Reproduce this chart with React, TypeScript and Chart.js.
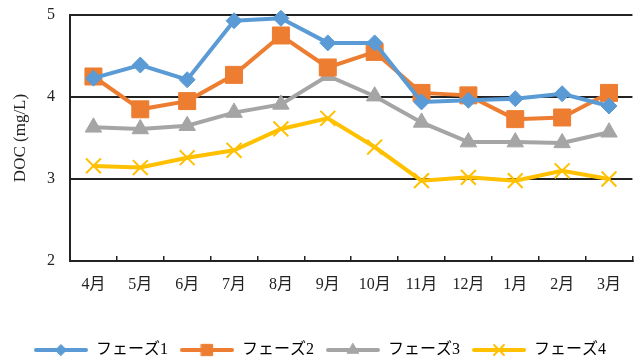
import React, { useEffect, useRef } from "react";
import { Chart, registerables } from "chart.js";
import { drawPoint } from "chart.js/helpers";

Chart.register(...registerables);

// Monthly DOC readings (mg/L), April through March
const months = ["4月", "5月", "6月", "7月", "8月", "9月", "10月", "11月", "12月", "1月", "2月", "3月"];
const phase1 = [4.23, 4.39, 4.21, 4.93, 4.96, 4.66, 4.66, 3.94, 3.96, 3.98, 4.04, 3.89];
const phase2 = [4.25, 3.85, 3.95, 4.27, 4.75, 4.36, 4.55, 4.05, 4.02, 3.73, 3.75, 4.05];
const phase3 = [3.63, 3.61, 3.65, 3.81, 3.91, 4.26, 4.01, 3.69, 3.45, 3.45, 3.44, 3.57];
const phase4 = [3.16, 3.14, 3.26, 3.35, 3.61, 3.74, 3.39, 2.98, 3.02, 2.98, 3.10, 3.00];
const seriesNames = ["フェーズ1", "フェーズ2", "フェーズ3", "フェーズ4"];
const yTicks = [2, 3, 4, 5];

const SERIF = '"Liberation Serif", "Noto Sans CJK JP", serif';

type Style = {
  color: string;
  point: "rectRot" | "rect" | "triangle" | "crossRot";
  radius: number;
  legendRadius: number;
};

const styles: Style[] = [
  { color: "#5B9BD5", point: "rectRot", radius: 8, legendRadius: 5.5 },
  { color: "#ED7D31", point: "rect", radius: 12, legendRadius: 8 },
  { color: "#A5A5A5", point: "triangle", radius: 9.5, legendRadius: 6.5 },
  { color: "#FFC000", point: "crossRot", radius: 10.5, legendRadius: 7 },
];

// Legend swatch: a short thick line with the series marker on it
function legendIcon(s: Style): HTMLCanvasElement {
  const c = document.createElement("canvas");
  c.width = 56;
  c.height = 18;
  const ctx = c.getContext("2d")!;
  ctx.strokeStyle = s.color;
  ctx.lineWidth = 4;
  ctx.lineCap = "round";
  ctx.beginPath();
  ctx.moveTo(3, 9);
  ctx.lineTo(53, 9);
  ctx.stroke();
  ctx.fillStyle = s.color;
  ctx.strokeStyle = s.color;
  ctx.lineWidth = s.point === "crossRot" ? 2 : 1;
  drawPoint(ctx, { pointStyle: s.point, radius: s.legendRadius, rotation: 0, borderWidth: ctx.lineWidth }, 28, 9);
  return c;
}

export default function App() {
  const ref = useRef<HTMLCanvasElement | null>(null);

  useEffect(() => {
    document.body.style.margin = "0";
    const canvas = ref.current;
    if (!canvas) return;
    const values = [phase1, phase2, phase3, phase4];
    const icons = styles.map(legendIcon);

    const chart = new Chart(canvas, {
      type: "line",
      data: {
        labels: months,
        datasets: values.map((v, i) => ({
          label: seriesNames[i],
          data: v,
          borderColor: styles[i].color,
          backgroundColor: styles[i].color,
          borderWidth: 4,
          pointStyle: styles[i].point,
          pointRadius: styles[i].radius,
          pointBorderWidth: styles[i].point === "crossRot" ? 2 : 1,
          pointBackgroundColor: styles[i].color,
          pointBorderColor: styles[i].color,
          tension: 0,
          clip: false,
        })),
      },
      options: {
        responsive: false,
        animation: false,
        layout: { autoPadding: false, padding: { top: 15, right: 0, left: 0, bottom: -8 } },
        plugins: {
          tooltip: { enabled: false },
          legend: {
            position: "bottom",
            labels: {
              usePointStyle: true,
              pointStyleWidth: 54,
              padding: 12,
              color: "#333",
              font: { family: SERIF, size: 16 },
              generateLabels: (ch) =>
                ch.data.datasets.map((d, i) => ({
                  text: d.label as string,
                  pointStyle: icons[i],
                  fillStyle: styles[i].color,
                  strokeStyle: styles[i].color,
                  lineWidth: 0,
                  hidden: false,
                  datasetIndex: i,
                })),
            },
          },
        },
        scales: {
          x: {
            offset: true,
            grid: {
              offset: true,
              drawOnChartArea: false,
              drawTicks: true,
              tickLength: -5,
              color: "#222",
              lineWidth: 1.5,
            },
            border: { display: true, color: "#222", width: 2 },
            ticks: {
              padding: 19,
              color: "#222",
              maxRotation: 0,
              autoSkip: false,
              font: { family: SERIF, size: 16 },
            },
            afterFit: (scale) => {
              scale.height = 69;
            },
          },
          y: {
            min: 2,
            max: 5,
            afterBuildTicks: (scale) => {
              scale.ticks = yTicks.map((v) => ({ value: v }));
            },
            grid: { color: "#222", lineWidth: 2, drawTicks: false },
            border: { display: true, color: "#222", width: 2 },
            ticks: {
              padding: 15,
              color: "#222",
              font: { family: SERIF, size: 16 },
            },
            title: {
              display: true,
              text: "DOC (mg/L)",
              color: "#222",
              font: { family: SERIF, size: 17 },
              padding: { top: 10, bottom: 0 },
            },
            afterFit: (scale) => {
              scale.width = 70;
              // tick padding is horizontal only; keep it out of the vertical overflow
              scale.paddingTop = 0;
              scale.paddingBottom = 0;
            },
          },
        },
      },
    });
    return () => chart.destroy();
  }, []);

  return (
    <div style={{ width: 640, height: 360 }}>
      <canvas ref={ref} width={640} height={360} style={{ display: "block" }} />
    </div>
  );
}
